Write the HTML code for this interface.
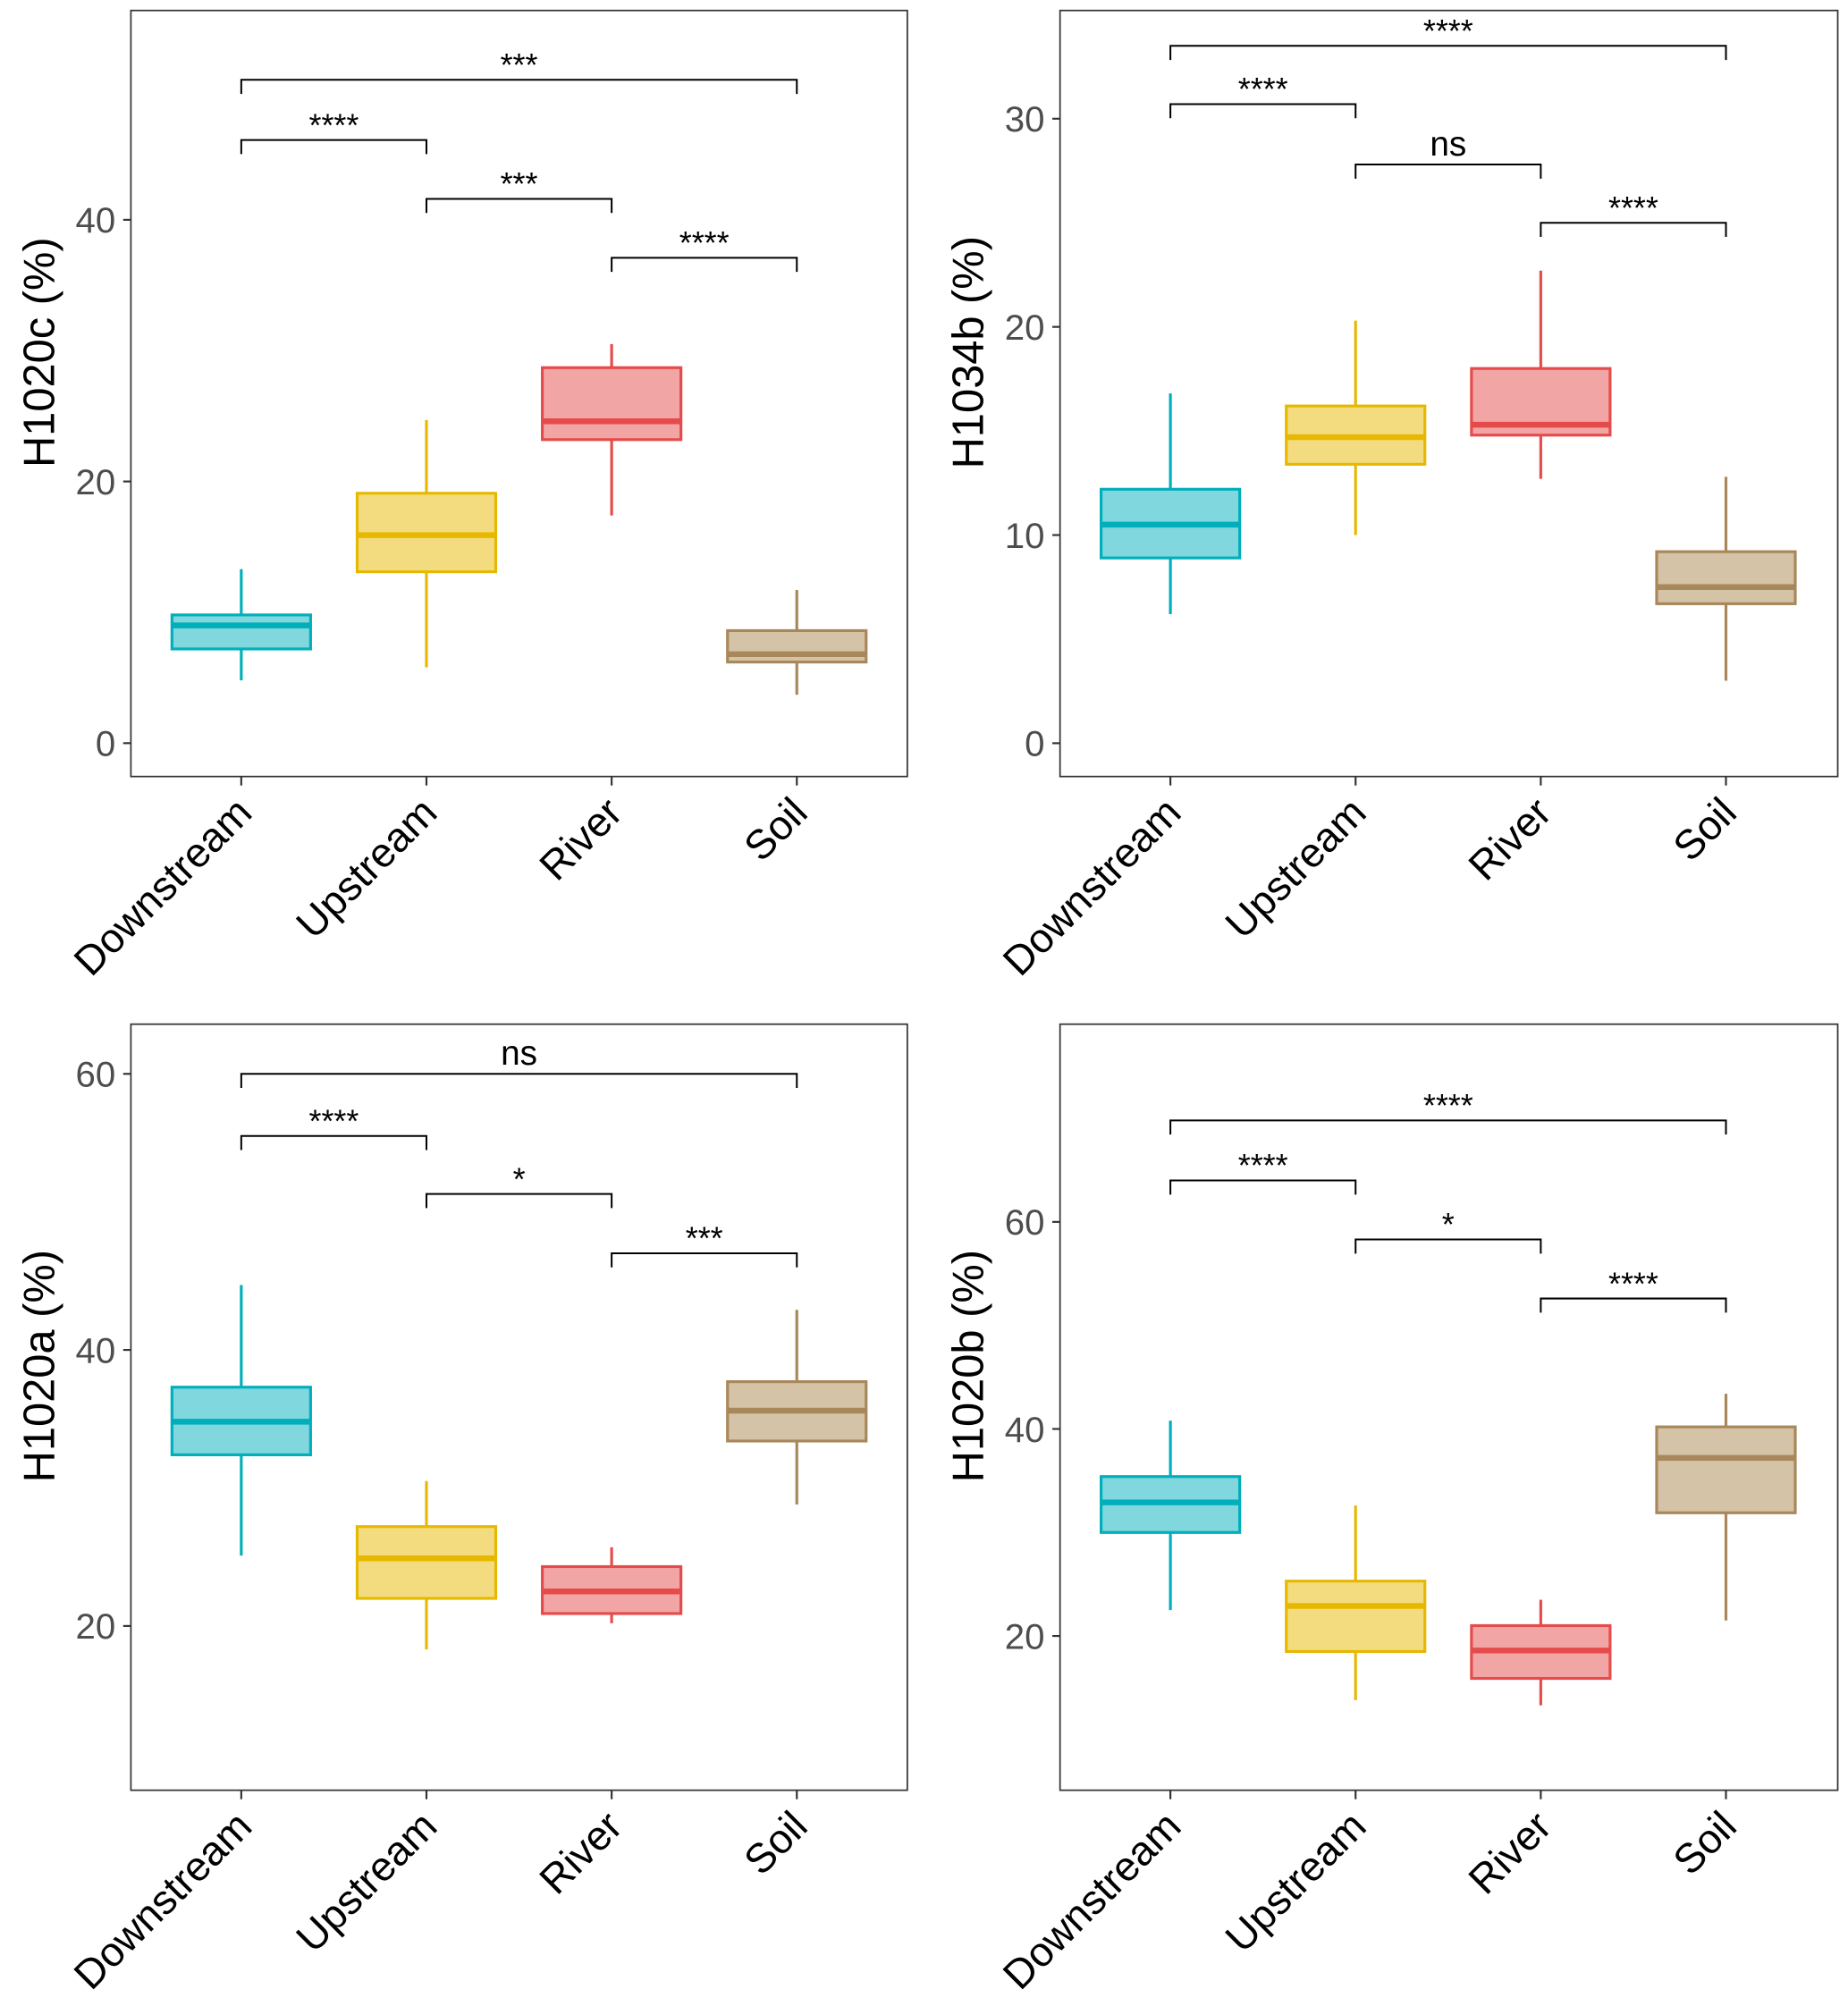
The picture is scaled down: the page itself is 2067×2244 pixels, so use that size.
<!DOCTYPE html>
<html><head><meta charset="utf-8"><style>
html,body{margin:0;padding:0;background:#fff}
svg{display:block}
text{font-family:"Liberation Sans",Arial,sans-serif}
</style></head><body>
<svg id="chart" width="2067" height="2244" viewBox="0 0 1440 1563" xmlns="http://www.w3.org/2000/svg"></svg>
<script>
const categories = ["Downstream","Upstream","River","Soil"];
const colors = ["#00AFBB","#E7B800","#E64B4B","#A8875A"];
const fills = ["#80D7DD","#F3DC80","#F2A5A5","#D4C3A6"];
// per panel: [low, q1, median, q3, high]
const p1Stats = [[4.8,7.2,9.0,9.8,13.3],[5.8,13.1,15.9,19.1,24.7],[17.4,23.2,24.6,28.7,30.5],[3.7,6.2,6.8,8.6,11.7]];
const p2Stats = [[6.2,8.9,10.5,12.2,16.8],[10.0,13.4,14.7,16.2,20.3],[12.7,14.8,15.3,18.0,22.7],[3.0,6.7,7.5,9.2,12.8]];
const p3Stats = [[25.1,32.4,34.8,37.3,44.7],[18.3,22.0,24.9,27.2,30.5],[20.2,20.9,22.5,24.3,25.7],[28.8,33.4,35.6,37.7,42.9]];
const p4Stats = [[22.5,30.0,32.9,35.4,40.8],[13.8,18.5,22.9,25.3,32.6],[13.3,15.9,18.6,21.0,23.5],[21.5,31.9,37.2,40.2,43.4]];
// brackets: [fromIdx, toIdx, y, label]
const p1Brackets = [[0,3,50.7,"***"],[0,1,46.1,"****"],[1,2,41.6,"***"],[2,3,37.1,"****"]];
const p2Brackets = [[0,3,33.5,"****"],[0,1,30.7,"****"],[1,2,27.8,"ns"],[2,3,25.0,"****"]];
const p3Brackets = [[0,3,60.0,"ns"],[0,1,55.5,"****"],[1,2,51.3,"*"],[2,3,47.0,"***"]];
const p4Brackets = [[0,3,69.8,"****"],[0,1,64.0,"****"],[1,2,58.3,"*"],[2,3,52.6,"****"]];
const p1Ticks = [0,20,40];
const p2Ticks = [0,10,20,30];
const p3Ticks = [20,40,60];
const p4Ticks = [20,40,60];
const titles = ["H1020c (%)","H1034b (%)","H1020a (%)","H1020b (%)"];

const panels = [
 {x0:102,x1:707,y0:8,y1:605,dmin:-2.55,dmax:56.0,stats:p1Stats,br:p1Brackets,ticks:p1Ticks,title:titles[0],name:"panel-h1020c"},
 {x0:826,x1:1432,y0:8,y1:605,dmin:-1.6,dmax:35.2,stats:p2Stats,br:p2Brackets,ticks:p2Ticks,title:titles[1],name:"panel-h1034b"},
 {x0:102,x1:707,y0:798,y1:1395,dmin:8.1,dmax:63.6,stats:p3Stats,br:p3Brackets,ticks:p3Ticks,title:titles[2],name:"panel-h1020a"},
 {x0:826,x1:1432,y0:798,y1:1395,dmin:5.1,dmax:79.1,stats:p4Stats,br:p4Brackets,ticks:p4Ticks,title:titles[3],name:"panel-h1020b"}
];
const svg = document.getElementById('chart');
const NS = "http://www.w3.org/2000/svg";
function mk(tag, attrs, parent, txt){
  const e = document.createElementNS(NS, tag);
  for (const k in attrs) e.setAttribute(k, attrs[k]);
  if (txt !== undefined) e.textContent = txt;
  parent.appendChild(e);
  return e;
}
panels.forEach(p=>{
  const g = mk('g',{},svg);
  
  
  const W = p.x1-p.x0;
  const xPos = i => p.x0 + 86 + i*144.3;
  const yS = v => p.y1 - (v-p.dmin)/(p.dmax-p.dmin)*(p.y1-p.y0);
  const fr = mk('rect',{x:p.x0,y:p.y0,width:W,height:p.y1-p.y0,fill:'none',stroke:'#333',"stroke-width":1.2},g);
  
  
  p.ticks.forEach(t=>{
    const y = yS(t);
    mk('line',{x1:p.x0-6,x2:p.x0,y1:y,y2:y,stroke:'#333',"stroke-width":1.5},g);
    const tl = mk('text',{x:p.x0-12,y:y+10,"text-anchor":"end","font-size":28,fill:'#4d4d4d'},g,String(t));
    
    
  });
  const cy = (p.y0+p.y1)/2 - 32;
  const yt = mk('text',{x:0,y:0,"text-anchor":"middle","font-size":34,fill:'#000',transform:`translate(${p.x0-60},${cy}) rotate(-90)`},g,p.title);
  
  
  categories.forEach((c,i)=>{
    const x = xPos(i);
    mk('line',{x1:x,x2:x,y1:p.y1,y2:p.y1+7,stroke:'#333',"stroke-width":1.5},g);
    const xl = mk('text',{x:0,y:0,"text-anchor":"end","font-size":32,fill:'#000',transform:`translate(${x+10},${p.y1+30}) rotate(-45)`},g,c);
    
    
  });
  p.stats.forEach((s,i)=>{
    const x = xPos(i), hw = 54;
    const bg = mk('g',{},g);
    
    
    mk('line',{x1:x,x2:x,y1:yS(s[0]),y2:yS(s[1]),stroke:colors[i],"stroke-width":2.2},bg);
    mk('line',{x1:x,x2:x,y1:yS(s[3]),y2:yS(s[4]),stroke:colors[i],"stroke-width":2.2},bg);
    mk('rect',{x:x-hw,y:yS(s[3]),width:2*hw,height:yS(s[1])-yS(s[3]),fill:fills[i],stroke:colors[i],"stroke-width":2.2},bg);
    mk('line',{x1:x-hw,x2:x+hw,y1:yS(s[2]),y2:yS(s[2]),stroke:colors[i],"stroke-width":4.5},bg);
  });
  p.br.forEach(b=>{
    const xa = xPos(b[0]), xb = xPos(b[1]), y = yS(b[2]);
    const bk = mk('g',{},g);
    
    
    mk('path',{d:`M${xa},${y+11}V${y}H${xb}V${y+11}`,fill:'none',stroke:'#000',"stroke-width":1.4},bk);
    const isNs = b[3]==='ns';
    mk('text',{x:(xa+xb)/2,y:isNs?y-7:y-3,"text-anchor":"middle","font-size":isNs?27:25,fill:'#000'},bk,b[3]);
  });
});
</script>
</body></html>
